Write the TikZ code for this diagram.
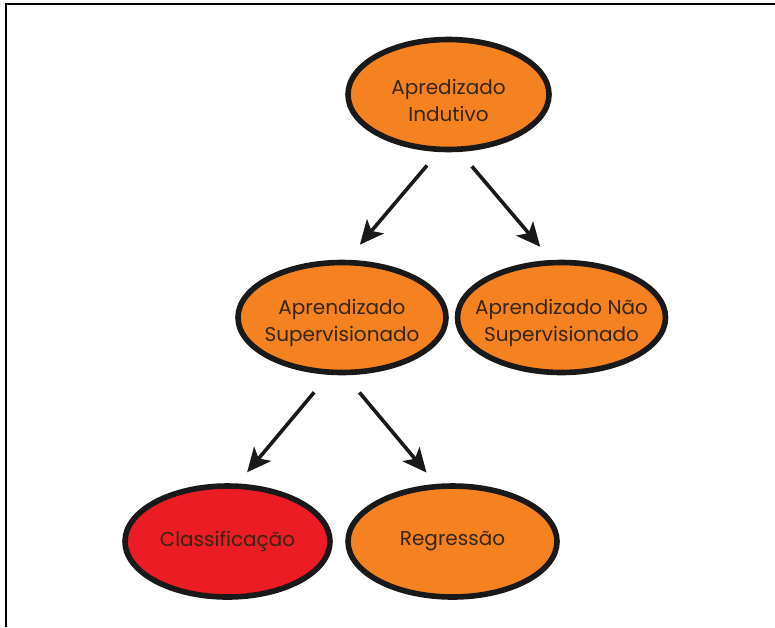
\documentclass[tikz,border=0pt]{standalone}
\usepackage{fontspec}
\setmainfont{Poppins}
\usepackage{xcolor}
\usetikzlibrary{arrows.meta,shapes.geometric}
\definecolor{nodeorange}{RGB}{245,130,32}
\definecolor{nodered}{RGB}{236,28,36}
\definecolor{nodetext}{RGB}{55,38,20}
\tikzset{
  concept/.style={
    draw=black!90,
    ellipse,
    line width=2.8pt,
    align=center,
    inner xsep=-20pt,
    inner ysep=0pt,
    minimum width=104pt,
    minimum height=55pt,
    font=\fontsize{10}{13.5}\selectfont,
    text=nodetext,
    fill=nodeorange
  },
  twoline/.style={
    concept,
    execute at begin node={\rule{0pt}{27pt}}
  },
  redconcept/.style={
    concept,
    fill=nodered
  },
  every edge/.style={draw, -{Stealth[length=12pt,width=11pt,inset=3pt]}, line width=1.8pt, black!90}
}

\begin{document}
\begin{tikzpicture}[x=0.5pt,y=-0.5pt]
  \useasboundingbox (0,0) rectangle (775,627);
  \draw[line width=1.2pt] (6,627) -- (6,4) -- (775,4);

  \node[twoline, minimum width=100.5pt] (ind) at (448.5,94.5) {Apredizado\\Indutivo};
  \node[twoline] (sup) at (342,317.5) {Aprendizado\\Supervisionado};
  \node[twoline] (naosup) at (561.5,317.5) {Aprendizado Não\\Supervisionado};
  \node[redconcept, minimum width=102.5pt, minimum height=55.5pt] (cls) at (227.5,541.5) {Classificação};
  \node[concept, minimum width=104.5pt, minimum height=55.5pt] (reg) at (452.5,541.5) {Regressão};

  \path (ind.260) edge[shorten <=8.8pt, shorten >=9.9pt] (sup.85)
        (ind.281) edge[shorten <=9.4pt, shorten >=8.6pt] (naosup.100)
        (sup.257) edge[shorten <=11.4pt, shorten >=7.3pt] (cls.80)
        (sup.273) edge[shorten <=11.2pt, shorten >=7.4pt] (reg.106);
\end{tikzpicture}
\end{document}
